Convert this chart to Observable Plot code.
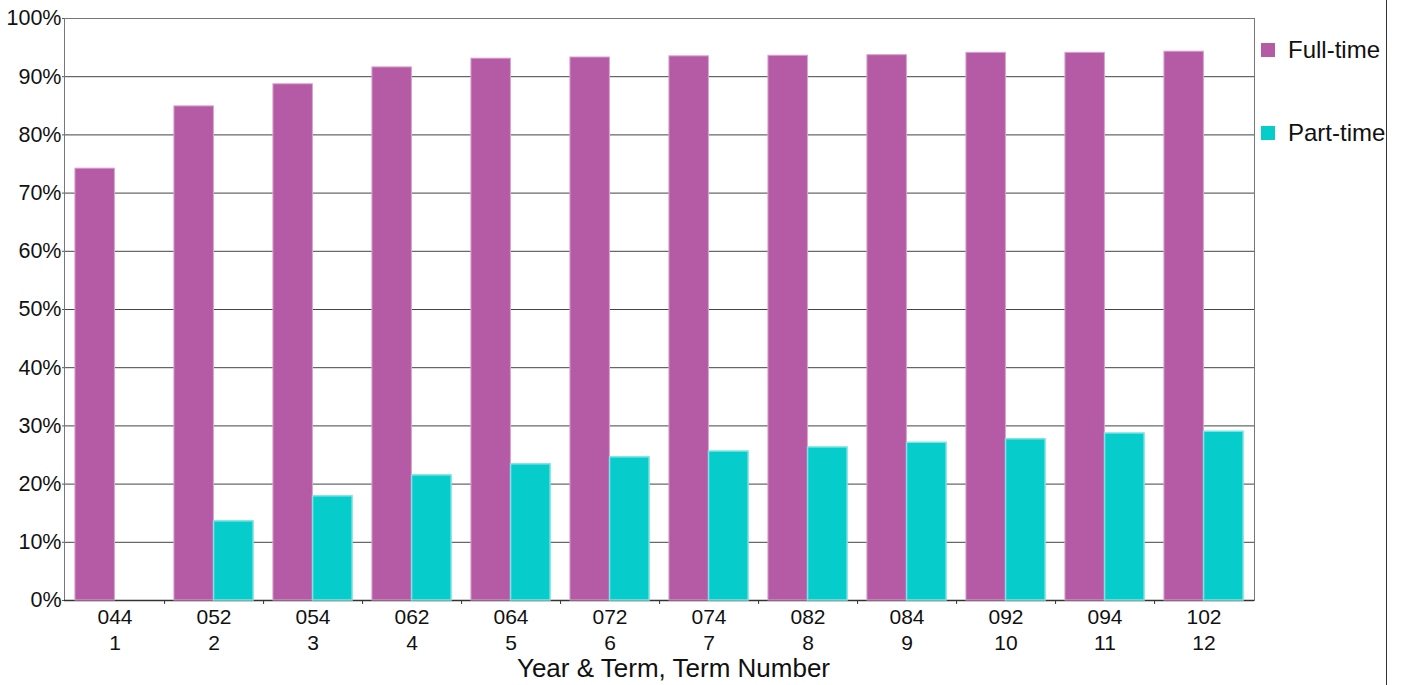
<!DOCTYPE html>
<html>
<head>
<meta charset="utf-8">
<script src="https://cdn.jsdelivr.net/npm/d3@7"></script>
<script src="https://cdn.jsdelivr.net/npm/@observablehq/plot@0.6"></script>
<style>
  html, body { margin: 0; padding: 0; background: #fff; }
  #wrap { position: relative; width: 1403px; height: 685px; font-family: "Liberation Sans", Arial, sans-serif; }
  #border { position: absolute; left: 1386px; top: 0; width: 1px; height: 685px; background: #333; }
  .leg { position: absolute; left: 1261px; display: flex; align-items: center; font-size: 24px; color: #111; white-space: nowrap; }
  .leg span.sw { display: inline-block; width: 14px; height: 14px; margin-right: 13px; }
</style>
</head>
<body>
<div id="wrap"></div>
<script>
const terms = ["044","052","054","062","064","072","074","082","084","092","094","102"];
const termNumbers = [1,2,3,4,5,6,7,8,9,10,11,12];
const fullTime = [74.2, 84.9, 88.7, 91.6, 93.1, 93.3, 93.5, 93.6, 93.7, 94.1, 94.1, 94.3];
const partTime = [0, 13.6, 17.9, 21.5, 23.4, 24.6, 25.6, 26.3, 27.1, 27.7, 28.7, 29.0];
const seriesNames = ["Full-time", "Part-time"];
const seriesColors = ["#B55BA6", "#06CCCC"];
const seriesStrokes = ["#D9A3D0", "#7FE3E3"];
const yTicks = [0,10,20,30,40,50,60,70,80,90,100];
const xLabel = "Year & Term, Term Number";

const W = 1403, H = 685;
const mL = 64, mR = 149, mT = 18, mB = 85;
const step = (W - mL - mR) / terms.length;

const rows = [];
terms.forEach((t, i) => {
  rows.push({term: t, series: seriesNames[0], value: fullTime[i]});
  rows.push({term: t, series: seriesNames[1], value: partTime[i]});
});
const numOf = new Map(terms.map((t, i) => [t, termNumbers[i]]));

const chart = Plot.plot({
  width: W, height: H,
  marginLeft: mL, marginRight: mR, marginTop: mT, marginBottom: mB,
  style: {fontFamily: '"Liberation Sans", Arial, sans-serif', color: "#111", background: "#fff"},
  x: {type: "band", domain: terms, padding: 0},
  y: {domain: [0, 100]},
  color: {domain: seriesNames, range: seriesColors},
  marks: [
    Plot.ruleY(yTicks, {stroke: "#444", strokeWidth: 1}),
    Plot.frame({stroke: "#777"}),
    Plot.ruleY([0], {stroke: "#333", strokeWidth: 1.5}),
    Plot.barY(rows.filter(d => d.series === seriesNames[0]), {
      x: "term", y: "value", fill: seriesColors[0], stroke: seriesStrokes[0], strokeWidth: 1,
      insetLeft: step * 0.1, insetRight: step * 0.5
    }),
    Plot.barY(rows.filter(d => d.series === seriesNames[1]), {
      x: "term", y: "value", fill: seriesColors[1], stroke: seriesStrokes[1], strokeWidth: 1.5,
      insetLeft: step * 0.5, insetRight: step * 0.1
    }),
    Plot.axisY({ticks: yTicks, tickSize: 2, tickPadding: 1, tickFormat: d => d + "%", fontSize: 21.5, stroke: "#555", label: null}),
    Plot.axisX({tickSize: 0, tickPadding: 6, fontSize: 21, lineHeight: 1.2,
      tickFormat: d => d + "\n" + numOf.get(d), label: null}),
    Plot.axisX({ticks: terms.slice(0, -1), tickSize: 4, dx: step / 2, tickFormat: () => "", stroke: "#333", label: null}),
    Plot.text([xLabel], {frameAnchor: "bottom", dy: 76, dx: 14, fontSize: 26, fill: "#111"})
  ]
});

const wrap = document.getElementById("wrap");
wrap.appendChild(chart);
const border = document.createElement("div");
border.id = "border";
wrap.appendChild(border);
const legTops = [36, 119];
seriesNames.forEach((name, i) => {
  const d = document.createElement("div");
  d.className = "leg";
  d.style.top = legTops[i] + "px";
  const sw = document.createElement("span");
  sw.className = "sw";
  sw.style.background = seriesColors[i];
  d.appendChild(sw);
  d.appendChild(document.createTextNode(name));
  wrap.appendChild(d);
});
</script>
</body>
</html>
